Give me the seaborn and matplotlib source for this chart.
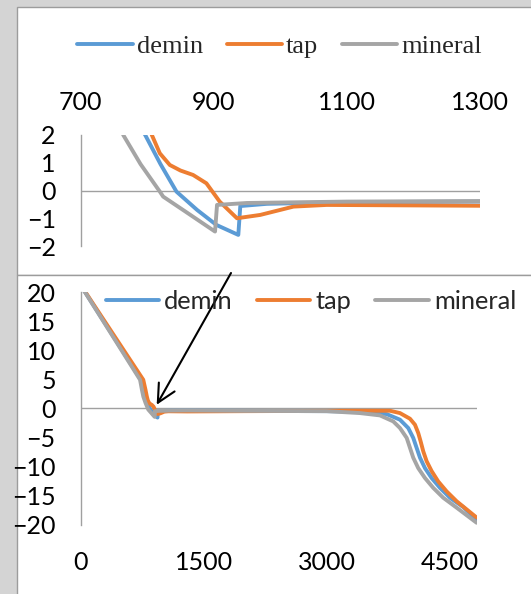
import pandas as pd
import seaborn as sns
import matplotlib.pyplot as plt
import matplotlib.lines as mlines
from matplotlib.patches import Rectangle

series_names = ['demin', 'tap', 'mineral']
series_colors = ['#5B9BD5', '#ED7D31', '#A5A5A5']

# values (time vs. value)
demin_t = [0, 52, 735, 760, 797, 820, 844, 875, 904, 937, 940, 980, 1100, 1300,
           2000, 3000, 3406, 3731, 3894, 3995, 4056, 4097, 4138, 4199, 4280,
           4382, 4504, 4666, 4829]
demin_v = [21.0, 20.0, 4.9, 3.6, 2.0, 0.95, -0.04, -0.7, -1.24, -1.6, -0.56, -0.48, -0.42, -0.4,
           -0.45, -0.5, -0.6, -1.0, -1.97, -3.4, -5.1, -6.8, -8.5, -10.3, -12.0,
           -13.7, -15.4, -17.0, -19.2]

tap_t = [0, 52, 763, 790, 807, 819, 834, 850, 869, 889, 909, 935, 970, 1020, 1070, 1300,
         2000, 3000, 3406, 3772, 3894, 4016, 4077, 4117, 4146, 4178, 4219, 4280,
         4361, 4463, 4585, 4707, 4829]
tap_v = [21.2, 20.1, 4.9, 3.2, 2.0, 1.34, 0.92, 0.72, 0.56, 0.26, -0.4, -1.0, -0.88, -0.58, -0.52, -0.55,
         -0.5, -0.45, -0.43, -0.43, -0.83, -1.8, -2.83, -4.26, -5.69, -7.4, -9.1, -10.8,
         -12.6, -14.3, -16.0, -17.4, -18.8]

mineral_t = [0, 52, 724, 745, 764, 790, 819, 824, 860, 902, 905, 950, 1100, 1300,
             2000, 3000, 3406, 3650, 3812, 3894, 3976, 4016, 4056, 4117, 4199,
             4300, 4422, 4585, 4829]
mineral_v = [21.0, 20.0, 4.9, 3.3, 2.0, 0.95, -0.04, -0.22, -0.8, -1.48, -0.52, -0.45, -0.4, -0.38,
             -0.45, -0.5, -0.83, -1.23, -2.26, -3.4, -5.1, -6.8, -8.5, -10.3, -12.0,
             -13.7, -15.4, -17.1, -19.7]

zoom_xticks = [700, 900, 1100, 1300]
zoom_yticks = [-2, -1, 0, 1, 2]
main_xticks = [0, 1500, 3000, 4500]
main_yticks = [20, 15, 10, 5, 0, -5, -10, -15, -20]

df = pd.concat([
    pd.DataFrame({'t': demin_t, 'v': demin_v, 'water': 'demin'}),
    pd.DataFrame({'t': tap_t, 'v': tap_v, 'water': 'tap'}),
    pd.DataFrame({'t': mineral_t, 'v': mineral_v, 'water': 'mineral'}),
], ignore_index=True)

sns.set_style('white')
plt.rcParams['font.family'] = ['Lato', 'DejaVu Sans']

W, H = 531, 594
LW = 2.8
fig = plt.figure(figsize=(W / 100, H / 100), dpi=100)
fig.patch.set_facecolor('#d4d4d4')

# white chart boxes
for top, bot in [(7, 275), (275, 620)]:
    fig.add_artist(Rectangle((16.5 / W, 1 - bot / H), 1.2, (bot - top) / H,
                             transform=fig.transFigure, facecolor='white',
                             edgecolor='#9c9c9c', lw=1, zorder=-5))

palette = dict(zip(series_names, series_colors))


def draw(ax, xlim, ylim, xticks, yticks):
    ax.set_facecolor('none')
    sns.lineplot(data=df, x='t', y='v', hue='water', hue_order=series_names,
                 palette=palette, estimator=None, sort=False, lw=LW,
                 legend=False, ax=ax)
    ax.axhline(0, color='#a0a0a0', lw=1, zorder=0)
    ax.set_xlim(*xlim)
    ax.set_ylim(*ylim)
    ax.set_xticks(xticks)
    ax.set_yticks(yticks)
    ax.set_xlabel('')
    ax.set_ylabel('')
    for s in ['top', 'right', 'bottom']:
        ax.spines[s].set_visible(False)
    ax.spines['left'].set_color('#a0a0a0')
    ax.spines['left'].set_linewidth(1)
    ax.tick_params(length=0, labelsize=18, pad=18, colors='black')


# zoomed panel
ax1 = fig.add_axes([80.7 / W, 1 - 246 / H, 399 / W, 111 / H])
draw(ax1, (700, 1300), (-2, 2), zoom_xticks, zoom_yticks)
ax1.xaxis.tick_top()
ax1.tick_params(axis='x', pad=15)

# full panel
ax2 = fig.add_axes([80.7 / W, 1 - 524.5 / H, 396 / W, 232.5 / H])
draw(ax2, (0, 4830), (-20, 20), main_xticks, main_yticks)
ax2.tick_params(axis='x', pad=19.3)

handles = [mlines.Line2D([], [], color=c, lw=LW, label=n)
           for n, c in zip(series_names, series_colors)]

ax1.legend(handles=handles, loc='center', ncol=3, frameon=False,
           bbox_to_anchor=(279.7 / W, 1 - 46.7 / H), bbox_transform=fig.transFigure,
           handlelength=2.1, handletextpad=0.15, columnspacing=0.9,
           prop={'family': 'Liberation Serif', 'size': 19})
ax2.legend(handles=handles, loc='center', ncol=3, frameon=False,
           bbox_to_anchor=(311 / W, 1 - 301.7 / H), bbox_transform=fig.transFigure,
           handlelength=2.1, handletextpad=0.2, columnspacing=0.95,
           prop={'family': 'Lato', 'size': 18.3})

ax2.annotate('', xy=(927, 0.6), xytext=(231, H - 273),
             textcoords='figure pixels', annotation_clip=False,
             arrowprops=dict(arrowstyle='->, head_length=1.3, head_width=0.65',
                             color='black', lw=1.5, shrinkA=0, shrinkB=0))

fig.savefig('out.png', dpi=100, facecolor=fig.get_facecolor())
